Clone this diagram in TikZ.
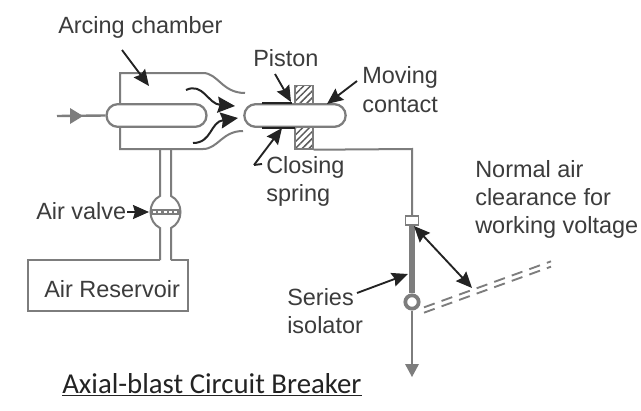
\documentclass[tikz,border=0pt]{standalone}
\usepackage{fontspec}
\setmainfont{Liberation Sans}
\newfontfamily\titlefont{Carlito}
\usetikzlibrary{arrows.meta,patterns.meta}
\definecolor{wire}{RGB}{125,125,125}
\definecolor{ink}{RGB}{35,35,35}
\definecolor{txt}{RGB}{60,60,60}
\tikzset{
 pipe/.style={draw=wire,line width=1.5pt},
 capsule/.style={draw=wire,line width=1.7pt,fill=white,rounded corners=8.5pt},
 head/.style={Stealth[length=12pt,width=10.5pt,inset=1.5pt]},
 callout/.style={draw=ink,line width=1.4pt,-{Stealth[length=12pt,width=10.5pt,inset=1.5pt]}},
 label/.style={text=txt,font=\fontsize{17.6}{21}\selectfont,inner sep=0pt,align=left},
 hatchblock/.style={draw=wire,line width=1.1pt,pattern={Lines[angle=45,distance=3.6pt,line width=1.1pt]},pattern color=ink!75}
}
\begin{document}
\begin{tikzpicture}[x=0.75pt,y=-0.75pt]
\useasboundingbox (0,0) rectangle (641,410);
\fill[white] (0,0) rectangle (641,410);
% chamber
\draw[pipe] (245,93) .. controls (222,93) and (218,73) .. (203,73) -- (120,73) -- (120,149) -- (203,149) .. controls (218,149) and (222,131) .. (243,131);
% pistons blocks
\node[hatchblock,minimum width=13.5pt,minimum height=14.5pt,inner sep=0pt] (blockT) at (304,95) {};
\node[hatchblock,minimum width=13.5pt,minimum height=16.5pt,inner sep=0pt] (blockB) at (304,138) {};
% capsules
\node[capsule,minimum width=75pt,minimum height=17pt,inner sep=0pt] (left) at (156.5,115.5) {};
\node[capsule,minimum width=76pt,minimum height=17pt,inner sep=0pt] (right) at (295,115.5) {};
% piston
\draw[ink,line width=1.8pt] (262,103) -- (292,103);
\draw[ink,line width=1.8pt] (262,128) -- (295,128);
% inlet
\coordinate (inlet) at (57,116);
\draw[wire,line width=1.8pt] (inlet) -- (left.west);
\draw[fill=wire,draw=none] (70,108) -- (83,116) -- (70,124) -- cycle;
% output wire
\coordinate (corner) at (412,149);
\node[draw=wire,line width=1.2pt,fill=white,minimum width=9.5pt,minimum height=6.5pt,inner sep=0pt] (slider) at (412,220.5) {};
\draw[pipe] (blockB.south east) -- (corner) -- (slider.north);
% isolator
\node[circle,draw=wire,line width=2.8pt,fill=white,minimum size=10pt,inner sep=0pt] (pivot) at (412,302) {};
\draw[wire,line width=4.2pt] (slider.south) -- (pivot.north);
\coordinate (down) at (412,377);
\draw[wire,line width=1.8pt] (pivot.south) -- (412,364);
\draw[fill=wire,draw=none] (405,364) -- (419,364) -- (down) -- cycle;
% open position (double dashed)
\coordinate (openA) at (424,310);
\coordinate (openB) at (551,264);
\draw[wire,line width=1.4pt,dash pattern=on 8.5pt off 5.5pt,transform canvas={yshift=2pt}] (openA) -- (openB);
\draw[wire,line width=1.4pt,dash pattern=on 8.5pt off 5.5pt,transform canvas={yshift=-2pt}] (openA) -- (openB);
% clearance
\coordinate (clA) at (414,226);
\coordinate (clB) at (472,288);
\draw[ink,line width=1.4pt,{Stealth[length=12pt,width=10.5pt,inset=1.5pt]}-{Stealth[length=12pt,width=10.5pt,inset=1.5pt]}] (clA) -- (clB);
% valve
\coordinate (valve) at (165,212);
\draw[pipe] (160,149) -- (160,196) .. controls (154,199) and (150.5,205) .. (150.5,212) .. controls (150.5,219) and (154,225) .. (160,228) -- (160,260);
\draw[pipe] (171,149) -- (171,196) .. controls (177,199) and (180.5,205) .. (180.5,212) .. controls (180.5,219) and (177,225) .. (171,228) -- (171,260);
\draw[wire,line width=4pt] (150.5,212) -- (180.5,212);
\draw[white,line width=1.6pt,dash pattern=on 2.2pt off 1.8pt] (153,212) -- (178,212);
% reservoir
\draw[pipe] (160,260) -- (28,260) -- (28,311) -- (188,311) -- (188,260) -- (171,260);
% flow arrows
\draw[ink,line width=1.5pt,-{Stealth[length=13pt,width=12pt,inset=1.5pt]}] (186,90) .. controls (203,82) and (208,104) .. (235,106);
\draw[ink,line width=1.5pt,-{Stealth[length=13pt,width=12pt,inset=1.5pt]}] (193,143) .. controls (212,143) and (210,122) .. (238,118);
% labels
\node[label,anchor=base west] (arcing) at (58,34) {Arcing chamber};
\node[label,anchor=base west] (piston) at (253,66) {Piston};
\node[label,anchor=base west] (moving) at (362,112) {Moving\\contact};
\node[label,anchor=base west] (closing) at (266,201) {Closing\\spring};
\node[label,anchor=base west] (airv) at (36,219) {Air valve};
\node[label,anchor=base west] (airr) at (44,297) {Air Reservoir};
\node[label,anchor=base west] (series) at (287,333) {Series\\isolator};
\node[label,anchor=base west] (normal) at (475,233) {Normal air\\clearance for\\working voltage};
\node[anchor=base west,inner sep=0pt,text=ink,font=\titlefont\fontsize{21.6}{24}\selectfont] (title) at (62,393) {\underline{Axial-blast Circuit Breaker}};
% callouts
\coordinate (t1) at (149,86);
\coordinate (t2) at (291,102);
\coordinate (t3) at (327,104);
\coordinate (t4) at (282,128);
\coordinate (t5) at (149,212);
\coordinate (t6) at (408,274);
\draw[callout] (122,50) -- (t1);
\draw[callout] (275,74) -- (t2);
\draw[callout] (357,81) -- (t3);
\draw[callout] (254,165) -- (t4);
\draw[ink,line width=1.4pt] (254,165) -- (262,164);
\draw[callout] (127,212) -- (t5);
\draw[callout] (357,293) -- (t6);
\end{tikzpicture}
\end{document}
